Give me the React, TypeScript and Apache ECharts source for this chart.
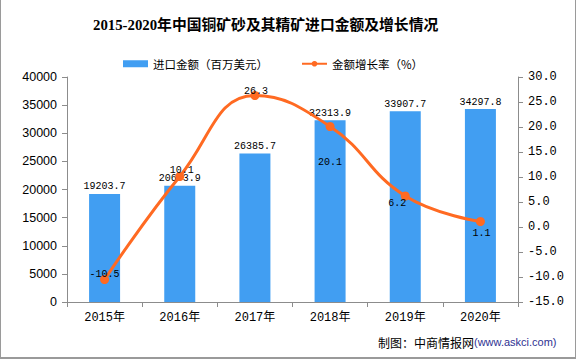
import React, { useEffect, useRef } from "react";
import * as echarts from "echarts";

const categories = ["2015年", "2016年", "2017年", "2018年", "2019年", "2020年"];
const importValues = [19203.7, 20673.9, 26385.7, 32313.9, 33907.7, 34297.8];
const growthRates = [-10.5, 10.1, 26.3, 20.1, 6.2, 1.1];

const leftMin = 0;
const leftMax = 40000;
const leftInterval = 5000;
const rightMin = -15;
const rightMax = 30;
const rightInterval = 5;

const titleText = "2015-2020年中国铜矿砂及其精矿进口金额及增长情况";
const barName = "进口金额（百万美元）";
const lineName = "金额增长率（%）";

// label offsets (style only)
const growthLabelOffsets: number[][] = [
  [0, -5],
  [2, -6],
  [1, -4],
  [0, 36],
  [-8, 7],
  [1, 12],
];

const BAR_COLOR = "#419EF2";
const LINE_COLOR = "#FF6A22";
const AXIS_COLOR = "#8C8C8C";

export default function App() {
  const ref = useRef<HTMLDivElement>(null);

  useEffect(() => {
    if (!ref.current) return;
    const chart = echarts.init(ref.current, undefined, { renderer: "svg" });
    const option: any = {
      animation: false,
      backgroundColor: "#ffffff",
      title: {
        text: titleText,
        left: 88,
        top: 13,
        textStyle: {
          fontSize: 14.8,
          fontWeight: "bold",
          color: "#000",
          fontFamily: "'Liberation Serif', 'Noto Sans CJK SC', serif",
        },
      },
      legend: {
        left: 118,
        top: 53,
        itemWidth: 25,
        itemHeight: 7,
        itemGap: 33,
        textStyle: {
          fontSize: 11.5,
          color: "#000",
          fontFamily: "'Noto Sans CJK SC', sans-serif",
        },
        data: [
          { name: barName, icon: "rect" },
          { name: lineName },
        ],
      },
      grid: { left: 67, right: 58, top: 77, bottom: 57 },
      xAxis: {
        type: "category",
        data: categories,
        boundaryGap: true,
        axisLine: { lineStyle: { color: AXIS_COLOR, width: 1 } },
        axisTick: { show: true, length: 5, alignWithLabel: false, lineStyle: { color: AXIS_COLOR } },
        axisLabel: {
          color: "#000",
          fontSize: 12,
          margin: 10,
          fontFamily: "'Liberation Mono', 'Noto Sans CJK SC', monospace",
        },
      },
      yAxis: [
        {
          type: "value",
          min: leftMin,
          max: leftMax,
          interval: leftInterval,
          splitLine: { show: false },
          axisLine: { show: true, lineStyle: { color: AXIS_COLOR } },
          axisTick: { show: true, length: 5, lineStyle: { color: AXIS_COLOR } },
          axisLabel: {
            color: "#000",
            fontSize: 12.5,
            margin: 10,
            fontFamily: "'Liberation Sans', Arial, sans-serif",
            formatter: (v: number) => String(v),
          },
        },
        {
          type: "value",
          min: rightMin,
          max: rightMax,
          interval: rightInterval,
          position: "right",
          splitLine: { show: false },
          axisLine: { show: true, lineStyle: { color: AXIS_COLOR } },
          axisTick: { show: true, length: 5, lineStyle: { color: AXIS_COLOR } },
          axisLabel: {
            color: "#000",
            fontSize: 12,
            margin: 10,
            fontFamily: "'Liberation Mono', monospace",
            formatter: (v: number) => v.toFixed(1),
          },
        },
      ],
      series: [
        {
          name: barName,
          type: "bar",
          data: importValues,
          barWidth: 31,
          itemStyle: { color: BAR_COLOR },
          label: {
            show: true,
            position: "top",
            distance: 2,
            color: "#000",
            fontSize: 10,
            fontFamily: "'Liberation Mono', monospace",
            formatter: (p: any) => Number(p.value).toFixed(1),
          },
        },
        {
          name: lineName,
          type: "line",
          yAxisIndex: 1,
          smooth: 0.45,
          data: growthRates.map((v, i) => ({
            value: v,
            label: { offset: growthLabelOffsets[i] },
          })),
          symbol: "circle",
          symbolSize: 9,
          itemStyle: { color: LINE_COLOR },
          lineStyle: { color: LINE_COLOR, width: 3 },
          label: {
            show: true,
            position: "inside",
            color: "#000",
            fontSize: 10,
            fontFamily: "'Liberation Mono', monospace",
            formatter: (p: any) => Number(p.value).toFixed(1),
          },
          z: 5,
        },
      ],
      graphic: [
        {
          type: "text",
          x: 378,
          y: 342,
          style: {
            text: "{a|制图：中商情报网}{b|(www.askci.com)}",
            verticalAlign: "middle",
            rich: {
              a: {
                fontSize: 12,
                fill: "#000",
                fontFamily: "'Noto Sans CJK SC', sans-serif",
              },
              b: {
                fontSize: 11,
                fill: "#2E3192",
                fontFamily: "'Liberation Sans', Arial, sans-serif",
              },
            },
          },
        },
      ],
    };
    chart.setOption(option);
    return () => chart.dispose();
  }, []);

  return (
    <div style={{ position: "fixed", left: 0, top: 0, width: 576, height: 359 }}>
      <div ref={ref} style={{ width: 576, height: 359 }} />
      <div
        style={{
          position: "absolute",
          left: 0,
          top: 0,
          width: 576,
          height: 359,
          boxSizing: "border-box",
          borderLeft: "1px solid #9A9A9A",
          borderRight: "1px solid #9A9A9A",
          borderBottom: "2px solid #9A9A9A",
          pointerEvents: "none",
        }}
      />
    </div>
  );
}
